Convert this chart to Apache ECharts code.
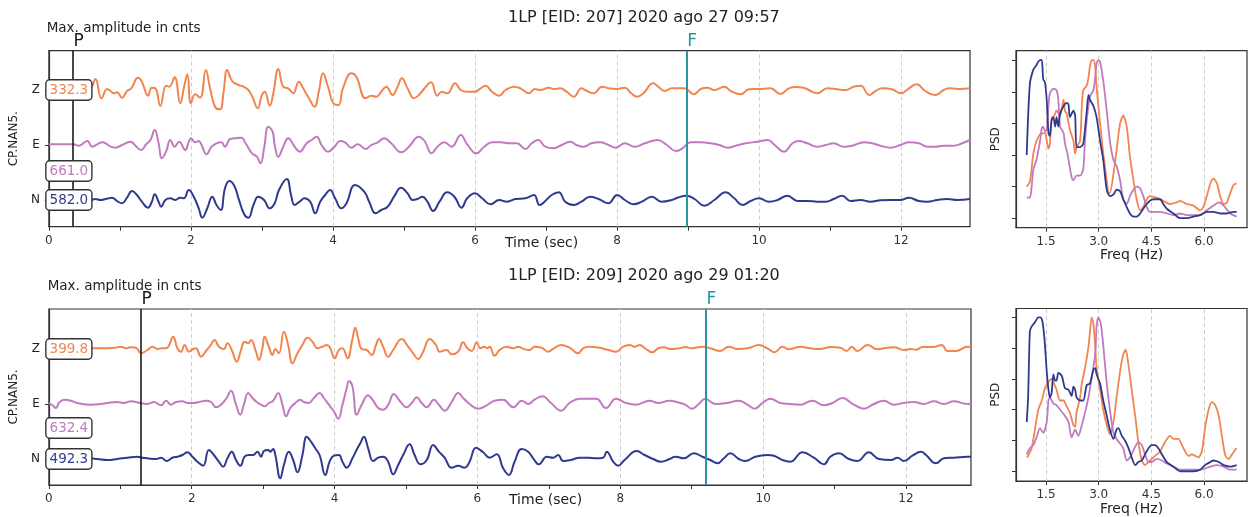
<!DOCTYPE html>
<html><head><meta charset="utf-8">
<script src="https://cdn.jsdelivr.net/npm/echarts@6/dist/echarts.min.js"></script>
<style>html,body{margin:0;padding:0;background:#fff;}#c{width:1250px;height:517px;}</style>
</head><body><div id="c"></div>
<script>
// ---------- DATA ----------
const components = ['Z', 'E', 'N'];
const titles = ['1LP [EID: 207] 2020 ago 27 09:57', '1LP [EID: 209] 2020 ago 29 01:20'];
const maxAmpTop = ['332.3', '661.0', '582.0'];
const maxAmpBot = ['399.8', '632.4', '492.3'];
const picksTop = [['P', 0.34], ['F', 8.98]];
const picksBot = [['P', 1.29], ['F', 9.2]];
const timeTicks = [0, 1, 2, 3, 4, 5, 6, 7, 8, 9, 10, 11, 12];
const timeLabels = [0, 2, 4, 6, 8, 10, 12];
const freqTicks = [1.5, 3.0, 4.5, 6.0];
const psdTicks = [0, 0.2, 0.4, 0.6, 0.8, 1.0];
const yLabel = 'CP.NAN5.';
const ampLabel = 'Max. amplitude in cnts';
const timeLabel = 'Time (sec)';
const freqLabel = 'Freq (Hz)';
const psdLabel = 'PSD';

// waveform traces: [time s, amplitude]
const topZ = [[0,0],[0.3,0.5],[0.5,1],[0.585,1.7],[0.655,11],[0.74,-8.3],[0.82,1],[0.866,-1],[0.913,-3.3],[0.96,-2.3],[1.03,-7.7],[1.10,-1],[1.16,1.7],[1.255,12.3],[1.31,8.3],[1.395,-5.7],[1.45,2.3],[1.50,1.7],[1.57,-16],[1.65,4.3],[1.695,3.3],[1.77,12.7],[1.85,-13.3],[1.90,1.7],[1.95,15.7],[2.00,-13.3],[2.06,-4.3],[2.13,-7.7],[2.21,20],[2.27,1.7],[2.34,-16.7],[2.41,-19.3],[2.46,-1.7],[2.51,20],[2.58,9],[2.67,5],[2.74,3.3],[2.81,0],[2.865,-6.7],[2.94,-18.3],[3.00,-5],[3.04,-1.7],[3.11,-15.7],[3.16,-3.3],[3.23,21],[3.30,3.3],[3.37,1.7],[3.44,-3.3],[3.52,8.3],[3.58,1.7],[3.65,-6.7],[3.74,-16.7],[3.80,-1.7],[3.86,16.7],[3.93,3.3],[4.02,-14.3],[4.08,-15],[4.14,1.7],[4.26,16.7],[4.33,13.3],[4.46,-8.3],[4.54,-5.7],[4.61,-6.7],[4.68,-1.7],[4.75,3.3],[4.84,-5],[4.91,3.3],[4.97,11.7],[5.05,1.7],[5.14,-8.3],[5.21,-5],[5.29,1.7],[5.38,7.7],[5.47,-5.7],[5.53,-1.7],[5.61,-3.3],[5.72,6.7],[5.80,0],[5.89,-1.7],[6.00,-1.7],[6.08,1.7],[6.15,4.3],[6.24,-1.7],[6.34,-5.7],[6.43,0],[6.55,3.3],[6.64,1.7],[6.76,-3.3],[6.84,1],[6.92,0],[7.04,2.3],[7.11,1],[7.20,1.7],[7.29,-1.7],[7.39,-6.7],[7.50,1.7],[7.55,0],[7.67,-3.3],[7.79,3.3],[7.88,1.7],[8.00,1],[8.11,2.3],[8.20,-3.3],[8.28,-6.7],[8.37,-3.3],[8.51,6.7],[8.58,3.3],[8.67,-1],[8.77,1.7],[8.95,1.7],[9.08,-4.3],[9.18,1],[9.27,2.3],[9.37,0],[9.51,3.3],[9.60,-1],[9.74,-4.3],[9.86,0.7],[10.0,1],[10.16,1.7],[10.30,-4],[10.42,1.7],[10.52,3],[10.63,2.3],[10.70,0],[10.82,-3.3],[10.96,1.7],[11.10,0.7],[11.22,0],[11.33,3.3],[11.43,4.3],[11.55,-5],[11.64,-1],[11.73,1.7],[11.87,0.7],[12.0,-3.3],[12.11,1.7],[12.22,5.7],[12.34,-1],[12.48,-5],[12.60,0],[12.69,1.7],[12.83,1],[12.97,1.7]];
const topE = [[0,0.7],[0.35,0.7],[0.42,-0.7],[0.54,4],[0.61,-1.7],[0.68,0.7],[0.75,2.7],[0.80,1.7],[0.87,-1.7],[0.94,-2.7],[1.03,0],[1.15,3.3],[1.22,-0.7],[1.30,-5],[1.37,0.7],[1.43,5],[1.49,15],[1.545,1.7],[1.59,-13.3],[1.65,-6.7],[1.71,5],[1.77,-1.7],[1.835,3.3],[1.92,-5],[1.97,3.3],[2.00,6.7],[2.06,2.7],[2.11,4],[2.15,0],[2.22,-9.3],[2.29,-1.7],[2.36,1.7],[2.43,2.7],[2.48,-1.7],[2.55,6],[2.62,6.7],[2.71,7.3],[2.77,1.7],[2.86,-8.3],[2.93,-11.7],[2.98,-18.3],[3.03,-3.3],[3.09,18.3],[3.15,13.3],[3.18,0],[3.23,-11.7],[3.30,-1.7],[3.37,6.7],[3.46,-1.7],[3.53,-6.7],[3.63,1.7],[3.70,5],[3.77,8.3],[3.84,0],[3.93,-6.7],[4.02,-1.7],[4.10,4],[4.17,2.7],[4.26,-2.7],[4.35,0.7],[4.46,-4],[4.54,0],[4.63,2.7],[4.72,6.7],[4.82,1.7],[4.96,-7.3],[5.07,-1.7],[5.21,8.3],[5.29,4],[5.39,-8.3],[5.47,-1.7],[5.57,2.7],[5.67,-1.7],[5.80,10],[5.89,0.7],[6.02,-8.3],[6.13,-1.7],[6.24,2.7],[6.36,2.7],[6.48,1.7],[6.59,1.7],[6.71,-4],[6.80,1.7],[6.89,5],[6.99,-1.7],[7.11,-3.3],[7.22,0],[7.34,3.3],[7.43,0],[7.53,-1.7],[7.64,1.7],[7.76,2.7],[7.88,0],[7.98,-2.7],[8.11,1.7],[8.25,-1.7],[8.39,1.7],[8.57,5],[8.70,0],[8.83,-6],[8.92,-3.3],[9.04,2.7],[9.18,2.7],[9.32,1.7],[9.44,0],[9.56,-2.7],[9.67,-0.7],[9.81,1.7],[9.98,3.3],[10.12,5],[10.23,-0.7],[10.35,-6.7],[10.47,1.7],[10.56,4],[10.68,1.7],[10.82,-1.7],[10.94,0],[11.05,1.7],[11.19,-1.7],[11.31,-0.7],[11.48,2.7],[11.59,1.7],[11.71,-0.7],[11.85,-2.7],[11.99,0],[12.11,2.7],[12.25,1.7],[12.37,-1.7],[12.48,-1.7],[12.60,-0.7],[12.74,-0.7],[12.86,1.7],[12.97,5]];
const topN = [[0,0],[0.585,0],[0.655,1],[0.73,0],[0.80,1],[0.89,2.3],[0.96,-1],[1.03,-3.3],[1.10,2.3],[1.17,9],[1.24,5],[1.31,-1.7],[1.395,-7.7],[1.45,-1.7],[1.49,5.7],[1.545,-1.7],[1.58,-6.7],[1.64,0],[1.71,1.7],[1.78,0],[1.85,2.3],[1.90,1.7],[1.97,10],[2.04,3.3],[2.11,-8.3],[2.16,-17.7],[2.23,-8.3],[2.30,3.3],[2.36,-5],[2.42,-10],[2.48,11.7],[2.54,19],[2.61,14.3],[2.67,1.7],[2.75,-14.3],[2.81,-17.7],[2.88,-5],[2.95,3.3],[3.03,0],[3.11,-8.3],[3.18,-3.3],[3.24,10],[3.35,21],[3.41,5],[3.46,-5],[3.53,-1.7],[3.60,1.7],[3.68,-1.7],[3.75,-13.3],[3.82,-1.7],[3.89,5],[3.96,10],[4.03,1.7],[4.12,-8.3],[4.19,-3.3],[4.31,15],[4.44,8.3],[4.51,-1.7],[4.60,-13.3],[4.68,-10],[4.77,-6.7],[4.86,3.3],[4.96,12.3],[5.05,6.7],[5.12,0],[5.19,1],[5.26,3.3],[5.33,-1.7],[5.41,-11],[5.50,-1.7],[5.61,7.7],[5.71,3.3],[5.81,-7.7],[5.89,1.7],[6.00,6.7],[6.10,1.7],[6.22,-4.3],[6.34,0],[6.45,-1.7],[6.57,1],[6.71,1.7],[6.83,5],[6.91,-5],[6.99,-1],[7.08,5],[7.18,7.7],[7.27,-1.7],[7.39,-5],[7.50,-1.7],[7.62,3.3],[7.74,1],[7.88,-3.3],[8.00,5],[8.11,0],[8.23,-4.3],[8.35,-1.7],[8.49,3.3],[8.63,-1.7],[8.77,0],[8.85,2.3],[8.98,4.3],[9.09,1],[9.23,-5.7],[9.37,0],[9.53,7.7],[9.65,1.7],[9.77,-5],[9.88,-1],[10.0,1.7],[10.14,-1.7],[10.26,0],[10.40,4.3],[10.54,-1],[10.68,-1],[10.82,-1.7],[10.94,-1.7],[11.05,1],[11.17,4.3],[11.29,-1],[11.43,0],[11.57,-1.7],[11.71,-0.3],[11.85,0],[11.99,0],[12.11,2.3],[12.25,-1],[12.37,-1.7],[12.51,0],[12.65,1],[12.79,0],[12.97,1]];
const botZ = [[0,0],[0.3,0],[0.58,0.7],[0.68,0.7],[0.82,0.7],[0.94,1.3],[1.01,2.3],[1.08,0.7],[1.14,1.7],[1.22,1.3],[1.29,-4.3],[1.38,-1],[1.45,2.3],[1.52,0],[1.58,0.7],[1.64,0.7],[1.68,3.3],[1.74,12.3],[1.80,0.7],[1.85,-2.7],[1.90,4],[1.96,-2.7],[2.02,0],[2.06,0.7],[2.13,-7.7],[2.20,-2],[2.26,3.3],[2.32,9],[2.38,2.3],[2.45,0],[2.50,5.7],[2.56,-1],[2.63,-12.7],[2.69,-1],[2.74,7.3],[2.79,5.7],[2.83,9],[2.90,-2.7],[2.94,-11],[2.99,0.7],[3.02,12.3],[3.08,2.3],[3.13,-6],[3.17,0],[3.22,-4.3],[3.29,17.3],[3.35,4],[3.41,-14.3],[3.48,-4.3],[3.55,4],[3.62,11.3],[3.69,7.3],[3.76,0.7],[3.83,2.3],[3.89,4],[3.94,0.7],[4.00,-9.3],[4.06,-1],[4.11,0.7],[4.18,-9.3],[4.25,10],[4.29,21.3],[4.33,10.7],[4.38,0],[4.45,-1],[4.52,-6],[4.58,4],[4.62,10],[4.68,2.3],[4.75,-7.7],[4.82,-1],[4.94,10],[5.03,2.3],[5.10,-4.3],[5.17,-10],[5.24,-2.7],[5.33,10],[5.42,4],[5.47,-2.7],[5.57,-1],[5.64,-5.3],[5.73,-2.7],[5.80,6.7],[5.86,0.7],[5.92,-2],[5.99,6.7],[6.04,0.7],[6.09,2.3],[6.14,0.7],[6.17,2.3],[6.24,-6.7],[6.31,-1],[6.41,2.3],[6.50,0.7],[6.57,2.3],[6.65,0],[6.73,-1],[6.80,2.3],[6.90,1.3],[6.99,-2.7],[7.07,0.7],[7.17,4],[7.29,1.3],[7.41,-4.3],[7.48,0.7],[7.57,2.3],[7.71,1.3],[7.83,-1],[7.94,-2.7],[8.04,2.3],[8.13,4],[8.20,2.3],[8.27,4],[8.36,0],[8.45,-3.3],[8.53,0.7],[8.62,1.7],[8.69,0],[8.82,0.7],[8.91,2],[9.00,0.7],[9.15,2.3],[9.26,0.7],[9.40,-2],[9.52,2.3],[9.64,0],[9.78,0.7],[9.94,4],[10.06,0.7],[10.16,-3.3],[10.27,2.3],[10.36,-0.3],[10.52,2.3],[10.66,0.7],[10.80,0],[10.94,2],[11.08,1.3],[11.17,-2],[11.24,2.3],[11.32,-2],[11.46,4],[11.60,-0.3],[11.74,1.3],[11.83,1.7],[11.97,-1],[12.07,0],[12.14,-0.7],[12.23,2],[12.39,2],[12.50,4],[12.58,-2],[12.70,-2],[12.86,2.3],[12.91,2]];
const botE = [[0,1],[0.05,-1.3],[0.10,-4],[0.14,1],[0.21,4.3],[0.31,3.3],[0.40,1],[0.59,-0.7],[0.73,0],[0.82,1],[0.96,2],[1.05,1],[1.15,2.7],[1.29,0.7],[1.38,0],[1.47,2],[1.57,-1.3],[1.64,3.3],[1.71,-0.7],[1.78,2],[1.87,2.7],[1.94,1],[2.03,1],[2.10,2],[2.20,3.3],[2.27,2],[2.34,-3.3],[2.41,-0.7],[2.49,6],[2.55,13.3],[2.62,-0.7],[2.68,-10.7],[2.73,-0.7],[2.79,11],[2.85,6],[2.91,2],[2.97,-0.7],[3.02,-2.3],[3.08,1],[3.14,3.3],[3.21,11],[3.27,-0.7],[3.32,-12.3],[3.38,-4],[3.45,1],[3.52,4.3],[3.57,2],[3.64,1],[3.71,6],[3.79,11],[3.85,6],[3.92,-0.7],[3.99,-7.3],[4.05,-14.7],[4.11,-0.7],[4.17,16],[4.20,22.7],[4.25,17.7],[4.31,-10.7],[4.38,-0.7],[4.47,8.7],[4.54,3.3],[4.61,-4],[4.68,-5.7],[4.75,-0.7],[4.83,10],[4.91,3.3],[5.01,-3.3],[5.08,1],[5.15,6.7],[5.22,1],[5.29,-3.3],[5.39,4.3],[5.46,-0.7],[5.54,-6.7],[5.64,2],[5.73,11],[5.80,6],[5.89,0],[6.01,-4.7],[6.13,-1.3],[6.24,3.3],[6.36,4.3],[6.50,-3.3],[6.62,3.3],[6.71,0],[6.80,4.3],[6.91,7.7],[7.03,1],[7.17,-6.7],[7.29,1],[7.43,5.3],[7.66,5.3],[7.80,-4],[7.94,5.3],[8.08,1],[8.22,-0.7],[8.41,3.3],[8.53,1],[8.69,3.3],[8.79,2],[8.91,-0.7],[9.00,-4.7],[9.10,0],[9.19,5.3],[9.33,0],[9.50,1],[9.66,3.3],[9.78,-0.7],[9.88,-4.7],[9.99,1],[10.10,5.3],[10.24,1],[10.38,0],[10.52,-0.7],[10.69,3.3],[10.85,-1.3],[10.97,1],[11.11,6],[11.27,-0.7],[11.41,-4.7],[11.55,0],[11.69,3.3],[11.83,-0.7],[11.97,1],[12.11,2],[12.25,0],[12.39,2.7],[12.53,0],[12.67,2.7],[12.86,0],[12.91,0]];
const botN = [[0,0],[0.3,0.5],[0.58,0.7],[0.68,0],[0.82,-1],[0.96,0],[1.10,1.3],[1.24,2.3],[1.31,1.3],[1.38,0.7],[1.50,0],[1.57,1.3],[1.65,-2],[1.73,1.3],[1.80,2.3],[1.87,4],[1.94,6.7],[2.01,2.3],[2.08,-2.7],[2.16,-6.7],[2.24,9],[2.31,4],[2.38,-2.7],[2.44,-7.7],[2.50,0.7],[2.56,7.3],[2.62,-1],[2.68,-6.7],[2.74,2.3],[2.80,4],[2.86,4],[2.92,7.3],[2.97,2.3],[3.01,8],[3.07,9],[3.10,7.3],[3.14,10],[3.17,4],[3.24,-19.3],[3.29,-6],[3.36,7.3],[3.42,-1],[3.48,-13.3],[3.55,4],[3.61,22.3],[3.67,17.3],[3.73,10.7],[3.79,4],[3.87,-16],[3.93,-2.7],[3.99,3.3],[4.06,4],[4.11,-2.7],[4.17,-8.7],[4.25,0.7],[4.32,10.7],[4.36,15.7],[4.41,22.3],[4.47,10.7],[4.54,-2],[4.61,1.3],[4.68,2.3],[4.75,-2.7],[4.82,-15.3],[4.89,-6],[4.96,4],[5.05,14.7],[5.12,4],[5.20,-5.3],[5.29,-1],[5.38,14],[5.46,7.3],[5.54,1.3],[5.64,-8.7],[5.73,-6.7],[5.82,-8.7],[5.89,-2.7],[5.98,11.3],[6.08,6.7],[6.17,1.3],[6.27,4.7],[6.36,-9.3],[6.44,-16],[6.52,-2.7],[6.62,10],[6.71,7.3],[6.78,0.7],[6.86,-5.3],[6.97,2.3],[7.06,1.3],[7.13,4],[7.20,-2],[7.31,-1],[7.43,1.3],[7.55,1.3],[7.66,0.7],[7.76,1.3],[7.81,7.3],[7.90,-2.7],[7.97,-6.7],[8.06,-1],[8.23,8],[8.34,4],[8.46,0],[8.57,-2.7],[8.69,0],[8.77,2.3],[8.89,0.7],[9.03,5.7],[9.15,2.3],[9.26,-1],[9.36,-4.3],[9.45,0.7],[9.54,5.7],[9.66,0],[9.75,-2],[9.89,2.3],[10.06,4],[10.15,3.3],[10.27,-1],[10.38,-2.7],[10.55,6.7],[10.71,1.3],[10.85,-5.3],[10.94,2.3],[11.06,5.7],[11.20,0],[11.32,-2],[11.48,6.7],[11.62,0],[11.79,-1],[11.88,1.3],[11.97,-2],[12.09,3.3],[12.21,7.3],[12.28,4],[12.42,-4.3],[12.53,0.7],[12.67,1.3],[12.86,2.3],[12.91,2.3]];

// normalized PSD: [freq Hz, value]
const psdTopZ = [[0.95,0.2],[1.04,0.23],[1.14,0.41],[1.23,0.49],[1.33,0.53],[1.47,0.54],[1.52,0.49],[1.57,0.44],[1.61,0.47],[1.66,0.64],[1.71,0.64],[1.8,0.68],[1.9,0.65],[2.0,0.75],[2.04,0.68],[2.09,0.66],[2.18,0.56],[2.28,0.49],[2.33,0.41],[2.37,0.45],[2.47,0.49],[2.52,0.71],[2.56,0.81],[2.66,0.84],[2.71,0.89],[2.75,0.96],[2.8,1.0],[2.85,1.0],[2.9,0.96],[2.94,0.83],[3.04,0.6],[3.13,0.41],[3.23,0.24],[3.28,0.16],[3.32,0.16],[3.42,0.28],[3.51,0.43],[3.61,0.6],[3.7,0.65],[3.8,0.58],[3.89,0.39],[3.99,0.24],[4.08,0.12],[4.18,0.05],[4.27,0.07],[4.37,0.12],[4.46,0.14],[4.65,0.13],[4.84,0.11],[5.03,0.09],[5.22,0.1],[5.32,0.11],[5.51,0.09],[5.7,0.08],[5.89,0.05],[5.98,0.07],[6.08,0.14],[6.18,0.22],[6.27,0.25],[6.37,0.22],[6.46,0.14],[6.56,0.09],[6.65,0.1],[6.75,0.16],[6.84,0.21],[6.93,0.22]];
const psdTopE = [[0.95,0.13],[1.04,0.13],[1.09,0.2],[1.14,0.31],[1.23,0.37],[1.33,0.49],[1.38,0.57],[1.42,0.58],[1.47,0.55],[1.52,0.56],[1.57,0.71],[1.61,0.79],[1.71,0.82],[1.8,0.81],[1.85,0.75],[1.9,0.58],[2.0,0.54],[2.04,0.47],[2.09,0.43],[2.14,0.37],[2.23,0.26],[2.28,0.24],[2.37,0.27],[2.47,0.27],[2.56,0.31],[2.61,0.49],[2.66,0.62],[2.75,0.77],[2.85,0.81],[2.9,0.89],[2.94,0.98],[2.99,1.0],[3.04,0.99],[3.13,0.87],[3.23,0.68],[3.32,0.49],[3.42,0.37],[3.51,0.33],[3.61,0.24],[3.7,0.12],[3.8,0.09],[3.89,0.14],[3.99,0.18],[4.08,0.2],[4.18,0.19],[4.27,0.14],[4.37,0.07],[4.46,0.04],[4.56,0.04],[4.75,0.04],[4.94,0.03],[5.13,0.02],[5.32,0.03],[5.51,0.02],[5.7,0.02],[5.89,0.02],[6.08,0.05],[6.27,0.08],[6.42,0.1],[6.56,0.08],[6.75,0.03],[6.93,0.01]];
const psdTopN = [[0.95,0.40],[1.04,0.85],[1.14,0.94],[1.23,0.97],[1.28,0.99],[1.33,1.0],[1.38,1.0],[1.42,0.88],[1.47,0.86],[1.52,0.75],[1.57,0.54],[1.61,0.52],[1.66,0.62],[1.71,0.64],[1.76,0.58],[1.8,0.64],[1.85,0.58],[1.9,0.66],[2.0,0.71],[2.09,0.73],[2.14,0.72],[2.18,0.64],[2.28,0.68],[2.33,0.65],[2.37,0.45],[2.47,0.45],[2.56,0.47],[2.66,0.68],[2.71,0.78],[2.75,0.75],[2.85,0.71],[2.94,0.64],[3.04,0.49],[3.13,0.37],[3.23,0.18],[3.32,0.14],[3.42,0.15],[3.51,0.18],[3.61,0.17],[3.7,0.12],[3.8,0.07],[3.89,0.03],[3.99,0.01],[4.08,0.01],[4.18,0.03],[4.27,0.06],[4.37,0.09],[4.46,0.11],[4.56,0.12],[4.75,0.12],[4.84,0.09],[4.94,0.06],[5.13,0.03],[5.32,0.0],[5.51,0.0],[5.7,0.01],[5.89,0.02],[6.08,0.04],[6.27,0.04],[6.46,0.03],[6.65,0.03],[6.84,0.04],[6.93,0.04]];
const psdBotZ = [[0.95,0.09],[0.99,0.1],[1.09,0.15],[1.19,0.28],[1.28,0.4],[1.38,0.46],[1.47,0.54],[1.57,0.58],[1.66,0.6],[1.71,0.58],[1.8,0.53],[1.9,0.46],[2.0,0.46],[2.09,0.42],[2.18,0.38],[2.28,0.3],[2.33,0.29],[2.37,0.38],[2.47,0.48],[2.52,0.57],[2.61,0.67],[2.71,0.81],[2.75,0.9],[2.8,1.0],[2.85,0.96],[2.9,0.82],[2.94,0.67],[3.04,0.53],[3.13,0.4],[3.23,0.3],[3.32,0.24],[3.42,0.32],[3.51,0.48],[3.61,0.65],[3.7,0.76],[3.77,0.79],[3.85,0.69],[3.94,0.53],[4.04,0.36],[4.13,0.19],[4.23,0.07],[4.32,0.04],[4.42,0.06],[4.56,0.09],[4.75,0.13],[4.89,0.19],[5.03,0.23],[5.13,0.21],[5.27,0.21],[5.37,0.17],[5.46,0.13],[5.56,0.1],[5.65,0.11],[5.75,0.1],[5.84,0.09],[5.94,0.13],[6.03,0.28],[6.13,0.4],[6.22,0.45],[6.32,0.43],[6.42,0.36],[6.51,0.23],[6.61,0.1],[6.7,0.08],[6.8,0.11],[6.89,0.14],[6.93,0.15]];
const psdBotE = [[0.95,0.11],[1.04,0.15],[1.14,0.17],[1.23,0.22],[1.33,0.28],[1.42,0.25],[1.52,0.32],[1.57,0.46],[1.61,0.48],[1.71,0.44],[1.8,0.43],[1.9,0.4],[2.04,0.36],[2.14,0.32],[2.23,0.22],[2.33,0.27],[2.42,0.23],[2.52,0.3],[2.61,0.38],[2.71,0.48],[2.8,0.61],[2.9,0.76],[2.94,0.94],[2.99,1.0],[3.06,0.96],[3.13,0.82],[3.23,0.57],[3.32,0.4],[3.42,0.25],[3.51,0.21],[3.61,0.18],[3.7,0.15],[3.8,0.07],[3.89,0.09],[4.04,0.16],[4.13,0.19],[4.23,0.17],[4.32,0.11],[4.42,0.06],[4.51,0.06],[4.65,0.08],[4.8,0.07],[4.94,0.05],[5.13,0.03],[5.32,0.01],[5.6,0.01],[5.89,0.01],[6.18,0.03],[6.37,0.04],[6.56,0.03],[6.75,0.01],[6.93,0.01]];
const psdBotN = [[0.95,0.32],[0.99,0.48],[1.04,0.91],[1.09,0.94],[1.19,0.97],[1.28,1.0],[1.33,1.0],[1.38,0.99],[1.42,0.94],[1.47,0.82],[1.52,0.65],[1.57,0.53],[1.61,0.48],[1.66,0.51],[1.71,0.63],[1.76,0.59],[1.8,0.59],[1.85,0.64],[1.95,0.62],[2.04,0.54],[2.14,0.53],[2.23,0.49],[2.28,0.55],[2.33,0.53],[2.37,0.48],[2.47,0.46],[2.56,0.46],[2.66,0.56],[2.75,0.57],[2.85,0.66],[2.9,0.67],[2.94,0.63],[3.04,0.57],[3.13,0.46],[3.23,0.36],[3.32,0.27],[3.42,0.21],[3.51,0.27],[3.56,0.28],[3.66,0.23],[3.75,0.2],[3.85,0.15],[3.94,0.09],[4.04,0.04],[4.13,0.06],[4.23,0.07],[4.32,0.11],[4.42,0.15],[4.51,0.17],[4.61,0.17],[4.7,0.15],[4.8,0.11],[4.94,0.06],[5.13,0.03],[5.32,0.0],[5.7,0.0],[5.89,0.01],[6.03,0.04],[6.18,0.06],[6.27,0.07],[6.42,0.06],[6.56,0.04],[6.75,0.03],[6.93,0.04]];

// ---------- STYLE / LAYOUT ----------
const FONT = 'DejaVu Sans';
const COLORS = { Z: '#f2854f', E: '#c07bbf', N: '#2f3a8f' };
const PICK_COLORS = { P: '#1a1a1a', F: '#2a95a2' };
const SPACING = 55;
const OFFSET = { Z: 2 * SPACING, E: SPACING, N: 0 };
const AXIS_COLOR = '#333';
const GRIDLINE = { color: '#cfcfcf', type: [4, 3], width: 1 };

const rows = [
  { wave: { left: 46.7, top: 50.7, width: 923.3, height: 176 }, wmin: -26.7, wmax: 149.3, tmax: 12.97,
    psd: { left: 1016, top: 50.7, width: 231, height: 177 }, pmin: -0.06, pmax: 1.06,
    traces: [topZ, topE, topN], psds: [psdTopZ, psdTopE, psdTopN], amps: maxAmpTop, picks: picksTop,
    boxDy: [0, 26, 0], titleTop: 10, ampTop: 21, timeLeft: 505, timeTop: 236 },
  { wave: { left: 47.7, top: 309, width: 923.3, height: 176 }, wmin: -26, wmax: 150, tmax: 12.91,
    psd: { left: 1016, top: 308.5, width: 231, height: 179 }, pmin: -0.064, pmax: 1.058,
    traces: [botZ, botE, botN], psds: [psdBotZ, psdBotE, psdBotN], amps: maxAmpBot, picks: picksBot,
    boxDy: [0, 24, 0], titleTop: 268, ampTop: 279, timeLeft: 509, timeTop: 493 }
];

const baseText = { fontFamily: FONT, color: '#222' };
const grids = [], xAxes = [], yAxes = [], series = [], titleList = [];
const offs = components.map(c => OFFSET[c]);
const labelFor = v => { const i = offs.indexOf(v); return i >= 0 ? components[i] : ''; };

rows.forEach((r, ri) => {
  const gW = grids.length, gP = gW + 1;
  grids.push(Object.assign({ show: true, borderColor: AXIS_COLOR, borderWidth: 1.2, containLabel: false }, r.wave));
  grids.push(Object.assign({ show: true, borderColor: AXIS_COLOR, borderWidth: 1.2, containLabel: false }, r.psd));
  const axisLine = { show: true, onZero: false, lineStyle: { color: AXIS_COLOR, width: 1.2 } };
  xAxes.push({ gridIndex: gW, type: 'value', min: 0, max: r.tmax,
    axisLine, axisTick: { show: true, length: 4, customValues: timeTicks, lineStyle: { color: AXIS_COLOR } },
    minorTick: { show: false }, minorSplitLine: { show: false },
    axisLabel: { customValues: timeLabels, fontSize: 12, margin: 8, fontFamily: FONT, color: '#333',
      formatter: v => String(v) },
    splitLine: { show: false } });
  yAxes.push({ gridIndex: gW, type: 'value', min: r.wmin, max: r.wmax,
    axisLine, axisTick: { show: true, length: 4, customValues: offs, lineStyle: { color: AXIS_COLOR } },
    axisLabel: { customValues: offs, formatter: labelFor, fontSize: 12, margin: 9, fontFamily: FONT, color: '#222' },
    splitLine: { show: false },
    name: yLabel, nameLocation: 'middle', nameGap: 26, nameTextStyle: Object.assign({ fontSize: 12 }, baseText) });
  xAxes.push({ gridIndex: gP, type: 'value', min: 0.645, max: 7.225,
    axisLine, axisTick: { show: true, length: 4, customValues: freqTicks, lineStyle: { color: AXIS_COLOR } },
    axisLabel: { customValues: freqTicks, formatter: v => v.toFixed(1), fontSize: 12, margin: 8, fontFamily: FONT, color: '#333' },
    splitLine: { show: false },
    name: freqLabel, nameLocation: 'middle', nameGap: 15, nameTextStyle: Object.assign({ fontSize: 14 }, baseText) });
  yAxes.push({ gridIndex: gP, type: 'value', min: r.pmin, max: r.pmax,
    axisLine, axisTick: { show: true, length: 4, customValues: psdTicks, lineStyle: { color: AXIS_COLOR } },
    axisLabel: { show: false }, splitLine: { show: false },
    name: psdLabel, nameLocation: 'middle', nameGap: 14, nameTextStyle: Object.assign({ fontSize: 12 }, baseText) });

  // dashed time grid lines at labelled ticks
  series.push({ type: 'line', xAxisIndex: gW, yAxisIndex: gW, data: [], z: 1,
    markLine: { z: 1, silent: true, symbol: 'none', animation: false, label: { show: false },
      lineStyle: GRIDLINE, data: timeLabels.filter(t => t > 0).map(t => ({ xAxis: t })) } });

  // waveform traces
  components.forEach((c, ci) => {
    series.push({ type: 'line', xAxisIndex: gW, yAxisIndex: gW, z: 2,
      data: r.traces[ci].map(([t, a]) => [t, a + OFFSET[c]]),
      smooth: 0.45, symbol: 'none', showSymbol: false, silent: true,
      lineStyle: { color: COLORS[c], width: 2 },
      markPoint: { z: 10, silent: true, symbol: 'rect', symbolSize: 1, itemStyle: { color: 'rgba(0,0,0,0)' },
        data: [{ coord: [0, OFFSET[c]], value: r.amps[ci] }],
        label: { show: true, position: 'inside', offset: [20, r.boxDy[ci]], formatter: r.amps[ci],
          color: COLORS[c], fontSize: 13.5, fontFamily: FONT, backgroundColor: '#fff',
          borderColor: '#333', borderWidth: 1.4, borderRadius: 3, padding: [3, 3, 2, 3] } }
    });
  });
  // picks (P / F)
  series.push({ type: 'line', xAxisIndex: gW, yAxisIndex: gW, data: [], z: 3,
    markLine: { z: 6, silent: true, symbol: 'none', animation: false,
      data: r.picks.map(([name, t]) => ({ xAxis: t, name,
        lineStyle: { color: PICK_COLORS[name], width: name === 'F' ? 2 : 1.6, type: 'solid' },
        label: { show: true, position: 'end', formatter: name, color: PICK_COLORS[name], fontSize: 17,
          fontFamily: FONT, distance: 1, padding: [0, 0, 0, 11] } })) } });
  // PSD curves
  components.forEach((c, ci) => {
    series.push({ type: 'line', xAxisIndex: gP, yAxisIndex: gP, z: 2 + (c === 'N' ? 1 : 0),
      data: r.psds[ci], smooth: 0.25, symbol: 'none', showSymbol: false, silent: true,
      lineStyle: { color: COLORS[c], width: 1.8 } });
  });
  // PSD dashed vertical grid lines
  series.push({ type: 'line', xAxisIndex: gP, yAxisIndex: gP, data: [], z: 1,
    markLine: { z: 1, silent: true, symbol: 'none', animation: false, label: { show: false },
      lineStyle: GRIDLINE, data: freqTicks.map(f => ({ xAxis: f })) } });

  titleList.push({ text: titles[ri], left: 508, top: r.titleTop, padding: 0,
    textStyle: Object.assign({ fontSize: 16, fontWeight: 'normal' }, baseText) });
  titleList.push({ text: ampLabel, left: r.wave.left, top: r.ampTop, padding: 0,
    textStyle: Object.assign({ fontSize: 13.5, fontWeight: 'normal' }, baseText) });
  titleList.push({ text: timeLabel, left: r.timeLeft, top: r.timeTop, padding: 0,
    textStyle: Object.assign({ fontSize: 14, fontWeight: 'normal' }, baseText) });
});

const chart = echarts.init(document.getElementById('c'), null, { renderer: 'canvas' });
chart.setOption({
  animation: false,
  backgroundColor: '#fff',
  title: titleList,
  grid: grids, xAxis: xAxes, yAxis: yAxes, series
});
</script></body></html>
